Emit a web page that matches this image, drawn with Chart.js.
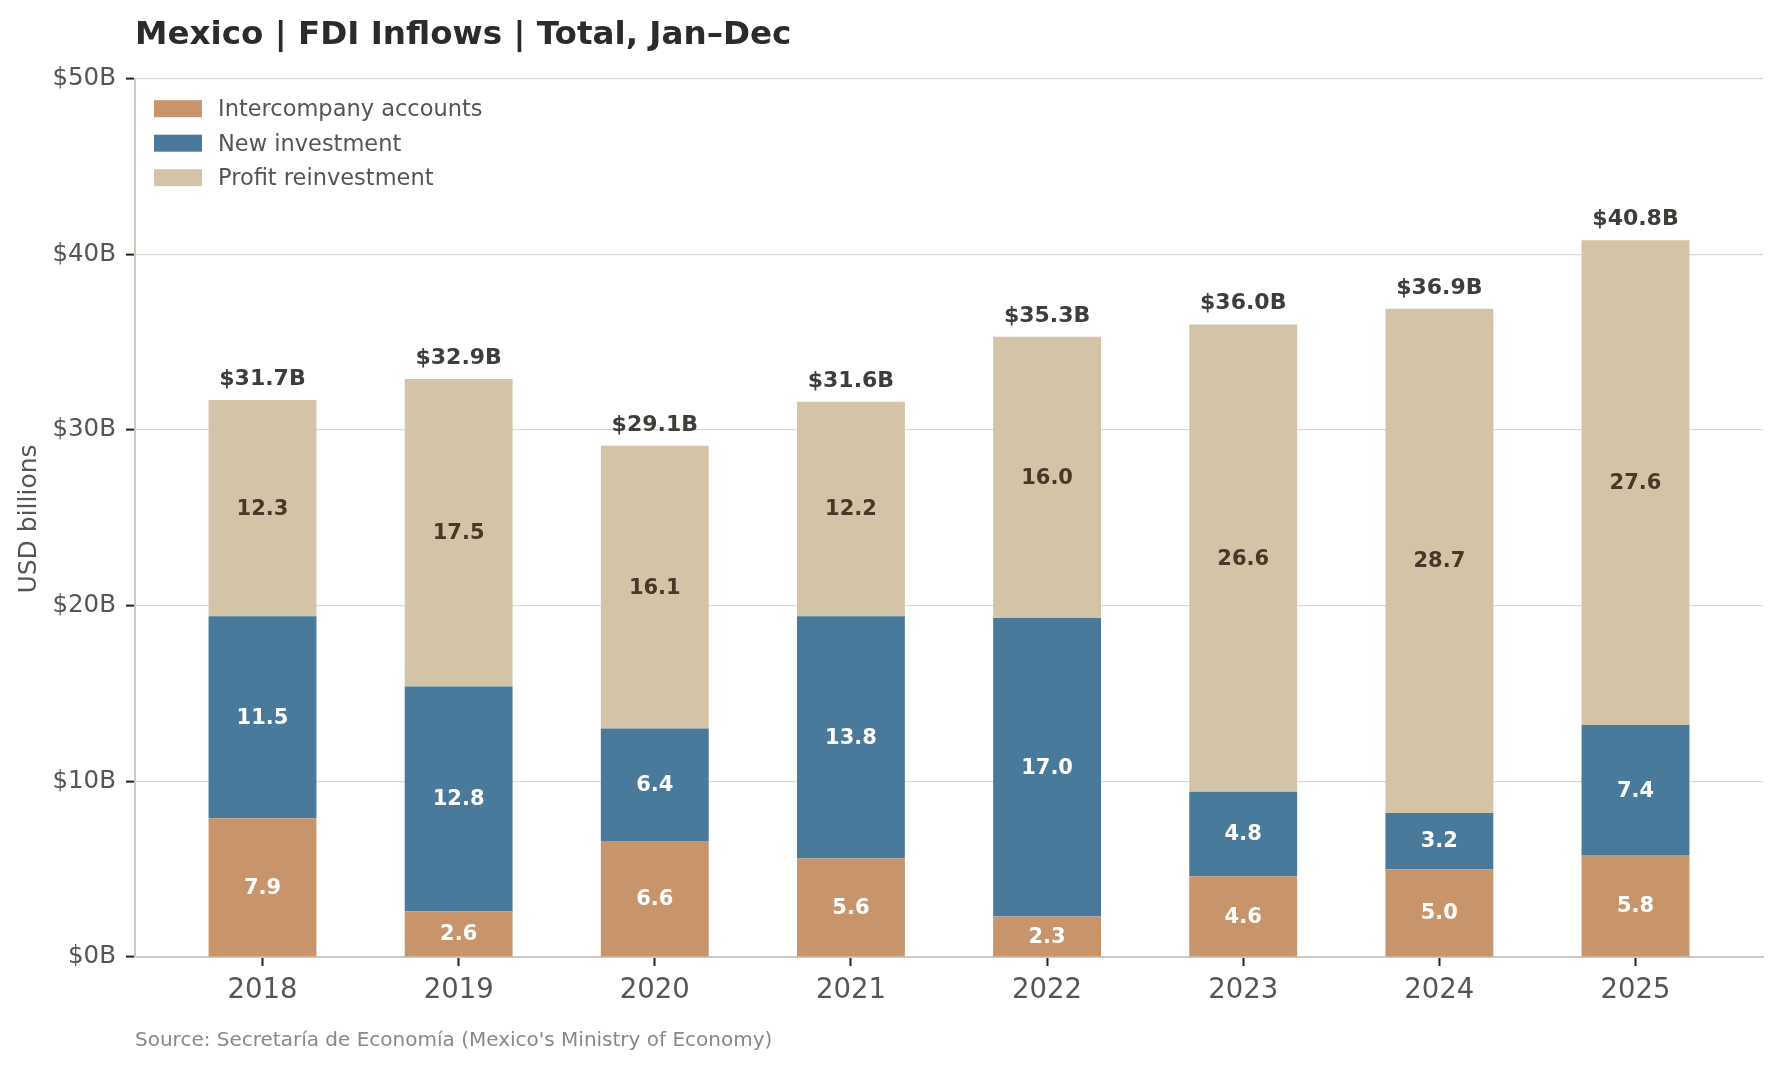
<!DOCTYPE html>
<html>
<head>
<meta charset="utf-8">
<script src="https://cdn.jsdelivr.net/npm/chart.js@4.4.1/dist/chart.umd.min.js"></script>
<style>
  html, body { margin: 0; padding: 0; background: #ffffff; }
  #wrap { width: 1780px; height: 1067px; }
</style>
</head>
<body>
<div id="wrap"><canvas id="c" width="1780" height="1067"></canvas></div>
<script>
// ---- data ----
const years = ['2018', '2019', '2020', '2021', '2022', '2023', '2024', '2025'];
const intercompany = [7.9, 2.6, 6.6, 5.6, 2.3, 4.6, 5.0, 5.8];
const newInvestment = [11.5, 12.8, 6.4, 13.8, 17.0, 4.8, 3.2, 7.4];
const profitReinvestment = [12.3, 17.5, 16.1, 12.2, 16.0, 26.6, 28.7, 27.6];
const totals = [31.7, 32.9, 29.1, 31.6, 35.3, 36.0, 36.9, 40.8];
const seriesNames = ['Intercompany accounts', 'New investment', 'Profit reinvestment'];
const yTicks = [0, 10, 20, 30, 40, 50];

const titleText = 'Mexico | FDI Inflows | Total, Jan\u2013Dec';
const sourceText = "Source: Secretar\u00eda de Econom\u00eda (Mexico's Ministry of Economy)";
const yTitle = 'USD billions';

// ---- styles ----
const colors = ['#C8946B', '#4A7A9B', '#D4C4A7'];
const segLabelColors = ['#ffffff', '#ffffff', '#4A3728'];
const FONT = '"DejaVu Sans", "Liberation Sans", sans-serif';

const toXY = arr => arr.map((v, i) => ({ x: i, y: v }));

const datasets = [intercompany, newInvestment, profitReinvestment].map((arr, k) => ({
  label: seriesNames[k],
  data: toXY(arr),
  backgroundColor: colors[k],
  borderWidth: 0,
  barPercentage: 0.55,
  categoryPercentage: 1.0
}));

const decorPlugin = {
  id: 'decor',
  beforeDraw(chart) {
    const ctx = chart.ctx;
    ctx.save();
    ctx.fillStyle = '#ffffff';
    ctx.fillRect(0, 0, chart.width, chart.height);
    ctx.restore();
  },
  afterDatasetsDraw(chart) {
    const ctx = chart.ctx;
    const yScale = chart.scales.y;
    ctx.save();
    ctx.textAlign = 'center';
    ctx.textBaseline = 'middle';
    // segment labels
    chart.data.datasets.forEach((ds, k) => {
      const meta = chart.getDatasetMeta(k);
      ctx.font = 'bold 21px ' + FONT;
      ctx.fillStyle = segLabelColors[k];
      meta.data.forEach((el, i) => {
        const v = ds.data[i].y;
        const cy = (el.y + el.base) / 2;
        ctx.fillText(v.toFixed(1), el.x, cy + 1);
      });
    });
    // totals
    const meta0 = chart.getDatasetMeta(0);
    ctx.font = 'bold 22px ' + FONT;
    ctx.fillStyle = '#3D3D3A';
    ctx.textBaseline = 'alphabetic';
    totals.forEach((t, i) => {
      const x = meta0.data[i].x;
      const y = yScale.getPixelForValue(t);
      ctx.fillText('$' + t.toFixed(1) + 'B', x, y - 15);
    });
    ctx.restore();
  },
  afterDraw(chart) {
    const ctx = chart.ctx;
    ctx.save();
    // title
    ctx.font = 'bold 32.6px ' + FONT;
    ctx.fillStyle = '#2B2B2B';
    ctx.textAlign = 'left';
    ctx.textBaseline = 'alphabetic';
    ctx.fillText(titleText, 135, 44);
    // source
    ctx.font = '20px ' + FONT;
    ctx.fillStyle = '#8A8880';
    ctx.textBaseline = 'middle';
    ctx.fillText(sourceText, 135, 1041);
    // y title
    ctx.save();
    ctx.translate(29, 519);
    ctx.rotate(-Math.PI / 2);
    ctx.textAlign = 'center';
    ctx.textBaseline = 'middle';
    ctx.font = '25px ' + FONT;
    ctx.fillStyle = '#555555';
    ctx.fillText(yTitle, 0, 0);
    ctx.restore();
    // legend
    const rows = [108.7, 143.2, 177.7];
    chart.data.datasets.forEach((ds, k) => {
      ctx.fillStyle = ds.backgroundColor;
      ctx.fillRect(154, rows[k] - 8.5, 48, 17);
      ctx.font = '22.5px ' + FONT;
      ctx.fillStyle = '#555555';
      ctx.textAlign = 'left';
      ctx.textBaseline = 'middle';
      ctx.fillText(ds.label, 218, rows[k] + 1.5);
    });
    ctx.restore();
  }
};

new Chart(document.getElementById('c'), {
  type: 'bar',
  data: { datasets },
  options: {
    responsive: false,
    animation: false,
    devicePixelRatio: 1,
    layout: { padding: { top: 78.5, right: 17, left: 0, bottom: 0 } },
    plugins: {
      legend: { display: false },
      title: { display: false },
      tooltip: { enabled: false }
    },
    scales: {
      x: {
        type: 'linear',
        stacked: true,
        offset: false,
        min: -0.65,
        max: 7.65,
        afterBuildTicks: s => { s.ticks = years.map((_, i) => ({ value: i })); },
        afterFit: s => { s.height = 110; },
        ticks: {
          callback: v => years[v],
          font: { family: FONT, size: 27.5 },
          color: '#555555',
          padding: 8,
          maxRotation: 0,
          autoSkip: false
        },
        grid: {
          offset: false,
          drawOnChartArea: false,
          drawTicks: true,
          tickLength: 9,
          tickColor: '#222222',
          tickWidth: 2
        },
        border: { display: true, color: '#CDCAC0', width: 2 }
      },
      y: {
        stacked: true,
        min: 0,
        max: 50,
        afterBuildTicks: s => { s.ticks = yTicks.map(v => ({ value: v })); },
        afterFit: s => { s.width = 135; },
        ticks: {
          callback: v => '$' + v + 'B',
          font: { family: FONT, size: 24.5 },
          color: '#555555',
          padding: 10
        },
        grid: {
          color: '#DCD9CF',
          lineWidth: 1.2,
          drawTicks: true,
          tickLength: 9,
          tickColor: '#222222',
          tickWidth: 2
        },
        border: { display: true, color: '#CDCAC0', width: 2 }
      }
    }
  },
  plugins: [decorPlugin]
});
</script>
</body>
</html>
